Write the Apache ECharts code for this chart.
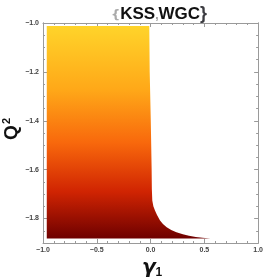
<!DOCTYPE html>
<html>
<head>
<meta charset="utf-8">
<script src="https://cdn.jsdelivr.net/npm/echarts@6/dist/echarts.min.js"></script>
<style>html,body{margin:0;padding:0;background:#fff}#c{width:266px;height:279px}</style>
</head>
<body>
<div id="c"></div>
<script>
// Region edges (data units)
const gammaLeft = -0.965;
const qTop = -1.012;
const qBottom = -1.882;
// Right boundary of the allowed region: Q^2 values and corresponding gamma_1
const boundaryQ = [-1.012, -1.2, -1.4, -1.6, -1.68, -1.726, -1.75, -1.767, -1.785, -1.808, -1.822, -1.836, -1.847, -1.856, -1.864, -1.870, -1.875, -1.879, -1.882];
const boundaryG = [-0.012, -0.008, 0.002, 0.010, 0.012, 0.016, 0.026, 0.041, 0.060, 0.088, 0.115, 0.150, 0.192, 0.240, 0.300, 0.357, 0.420, 0.481, 0.557];
// Axis ticks
const xTicks = [-1.0, -0.5, 0.0, 0.5, 1.0];
const yMajor = [-1.0, -1.2, -1.4, -1.6, -1.8];
const yMinor = [-1.0, -1.05, -1.1, -1.15, -1.2, -1.25, -1.3, -1.35, -1.4, -1.45, -1.5, -1.55, -1.6, -1.65, -1.7, -1.75, -1.8, -1.85, -1.9];

const fmt = v => (Math.abs(v) < 1e-9 ? 0 : v).toFixed(1).replace('-', '\u2212');
const axisColor = '#9a9a9a';
const labelStyle = {fontSize: 7, color: '#444', fontWeight: 'bold', fontFamily: 'Liberation Sans'};

const chart = echarts.init(document.getElementById('c'), null, {renderer: 'canvas'});
const xBase = (pos, showLabel) => ({
  type: 'value', position: pos, min: -1, max: 1, interval: 0.5,
  axisLine: {show: true, onZero: false, lineStyle: {color: axisColor, width: 1}},
  axisTick: {show: true, inside: true, length: 4, lineStyle: {color: axisColor}},
  minorTick: {show: true, splitNumber: 5, length: 2, lineStyle: {color: axisColor}},
  axisLabel: showLabel ? Object.assign({show: true, margin: 4, formatter: fmt}, labelStyle) : {show: false},
  splitLine: {show: false}, minorSplitLine: {show: false}
});
const yBase = (pos, vals, len, showLabel) => ({
  type: 'value', position: pos, min: -1.9, max: -1.0,
  axisLine: {show: true, onZero: false, lineStyle: {color: axisColor, width: 1}},
  axisTick: {show: true, inside: true, length: len, customValues: vals, lineStyle: {color: axisColor}},
  axisLabel: showLabel ? Object.assign({show: true, margin: 4, customValues: yMajor, formatter: fmt}, labelStyle) : {show: false},
  splitLine: {show: false}
});

chart.setOption({
  animation: false,
  grid: {left: 43, right: 2, top: 23, bottom: 36, containLabel: false},
  title: {
    text: '{b|{}{t|KSS}{c|,}{t|WGC}{b|}}',
    left: 154, top: 0, textAlign: 'center',
    textStyle: {
      rich: {
        b: {fontSize: 13, color: '#aaa', fontFamily: 'DejaVu Sans', padding: [4, 0, 0, 0]},
        c: {fontSize: 12, color: '#999', fontFamily: 'Liberation Sans', padding: [4, 0, 0, 0]},
        t: {fontSize: 17, fontWeight: 'bold', color: '#111', fontFamily: 'Liberation Sans'}
      }
    }
  },
  xAxis: [xBase('bottom', true), xBase('top', false)],
  yAxis: [
    yBase('left', yMajor, 4, true),
    yBase('left', yMinor, 2, false),
    yBase('right', yMajor, 4, false),
    yBase('right', yMinor, 2, false)
  ],
  graphic: [
    {type: 'text', left: 1, top: 118, rotation: Math.PI / 2,
     style: {text: '{q|Q}{s|2}', rich: {
       q: {fontSize: 19, fontWeight: 'bold', fill: '#111', fontFamily: 'Liberation Sans'},
       s: {fontSize: 11, fontWeight: 'bold', fill: '#111', fontFamily: 'Liberation Sans', padding: [0, 0, 10, 1]}
     }}},
    {type: 'text', left: 142, top: 258,
     style: {text: '{g|γ}{s|1}', rich: {
       g: {fontSize: 20, fontStyle: 'italic', fontWeight: 'bold', fill: '#111', fontFamily: 'DejaVu Sans'},
       s: {fontSize: 12, fontWeight: 'bold', fill: '#111', fontFamily: 'Liberation Sans', padding: [10, 0, 0, 0]}
     }}}
  ],
  series: [{
    type: 'custom',
    xAxisIndex: 0, yAxisIndex: 0,
    data: [[gammaLeft, qTop]],
    renderItem: function (params, api) {
      const pts = [api.coord([gammaLeft, qTop])];
      for (let i = 0; i < boundaryQ.length; i++) pts.push(api.coord([boundaryG[i], boundaryQ[i]]));
      pts.push(api.coord([gammaLeft, qBottom]));
      return {
        type: 'polygon',
        shape: {points: pts, smooth: 0},
        style: {
          fill: new echarts.graphic.LinearGradient(0, 0, 0, 1, [
            {offset: 0, color: '#FFD42A'},
            {offset: 0.3, color: '#FFA818'},
            {offset: 0.55, color: '#F8680C'},
            {offset: 0.78, color: '#D02402'},
            {offset: 1, color: '#6E0000'}
          ]),
          stroke: null
        }
      };
    }
  }]
});
</script>
</body>
</html>
